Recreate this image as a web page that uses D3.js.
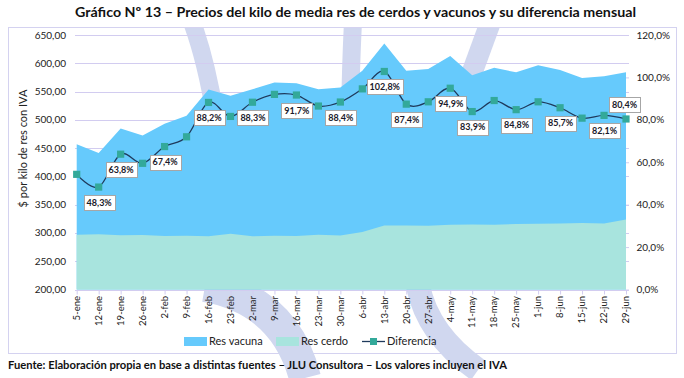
<!DOCTYPE html>
<html><head><meta charset="utf-8">
<script src="https://cdn.jsdelivr.net/npm/d3@7"></script>
<style>
html,body{margin:0;padding:0;background:#fff;}
svg{display:block;font-family:Lato,"Open Sans",sans-serif;}
</style></head>
<body>
<svg id="chart" width="684" height="378"></svg>
<script>
const categories = ["5-ene","12-ene","19-ene","26-ene","2-feb","9-feb","16-feb","23-feb","2-mar","9-mar","16-mar","23-mar","30-mar","6-abr","13-abr","20-abr","27-abr","4-may","11-may","18-may","25-may","1-jun","8-jun","15-jun","22-jun","29-jun"];
const resVacuna = [457,441.5,484.7,472.4,493,507,553.8,542.5,554,566,564.5,554,557,587,635,586.8,590,612.8,579,592,584,596.4,588,574,577,584];
const resCerdo = [297,297.7,296,296.2,294.5,295,294.3,298.6,294.2,295,294.5,297,295.6,301.6,313.1,313.1,312.8,314.4,314.8,314.5,316,316.4,316.6,317.5,316.9,323.7];
const diferencia = [54.3,48.3,63.8,59.5,67.4,72.0,88.2,81.6,88.3,92.0,91.7,86.5,88.4,94.6,102.8,87.4,88.5,94.9,83.9,89.1,84.8,88.5,85.7,80.8,82.1,80.4];
const labeledDates = ["12-ene","19-ene","2-feb","16-feb","2-mar","16-mar","30-mar","13-abr","20-abr","4-may","11-may","25-may","8-jun","22-jun","29-jun"];
const leftTicks = [200,250,300,350,400,450,500,550,600,650];
const rightTicks = [0,20,40,60,80,100,120];
const seriesNames = ["Res vacuna","Res cerdo","Diferencia"];
const titleText = "Gráfico Nº 13 – Precios del kilo de media res de cerdos y vacunos y su diferencia mensual";
const footerText = "Fuente: Elaboración propia en base a distintas fuentes – JLU Consultora – Los valores incluyen el IVA";
const yTitle = "$ por kilo de res con IVA";

const C = {vac:"#66CAFC", cer:"#A8E4DE", mk:"#33A99A", ln:"#1F3A5C", grid:"#D2CCF0", wm:"#D0D7EF", txt:"#222"};
const svg = d3.select("#chart");
const loc = d3.formatLocale({decimal:",",thousands:".",grouping:[3]});
const fL = loc.format(".2f"), fR = loc.format(".1f");

const x = d3.scalePoint().domain(categories).range([76.7, 626]);
const y = d3.scaleLinear().domain([200,650]).range([289.5, 35]);
const y2 = d3.scaleLinear().domain([0,120]).range([289.5, 35]);

// title
svg.append("text").attr("x",75).attr("y",17).attr("font-weight","bold").attr("font-size",13.5)
  .attr("fill","#111").attr("textLength",561).attr("lengthAdjust","spacingAndGlyphs").text(titleText);
// frame
svg.append("rect").attr("x",8.5).attr("y",27.5).attr("width",668).attr("height",326).attr("fill","#fff").attr("stroke","#D4D2F0");

// watermark (clipped below frame top)
svg.append("defs").append("clipPath").attr("id","wmclip").append("rect")
  .attr("x",9).attr("y",28).attr("width",684).attr("height",360);
const wm = svg.append("g").attr("clip-path","url(#wmclip)").attr("fill","none").attr("stroke",C.wm);
wm.append("path").attr("d","M192,22 Q206,60 215,115").attr("stroke-width",18);
wm.append("path").attr("d","M353,22 Q351,60 350,115").attr("stroke-width",18);
wm.append("path").attr("d","M492,18 L462,100").attr("stroke-width",21);
wm.append("path").attr("d","M205,286 Q285,300 305,378").attr("stroke-width",32);
wm.append("path").attr("d","M418,286 Q428,335 478,370").attr("stroke-width",24);

// gridlines
svg.append("g").selectAll("line").data(leftTicks.slice(1)).join("line")
  .attr("x1",75).attr("x2",629).attr("y1",d=>Math.round(y(d))+0.5).attr("y2",d=>Math.round(y(d))+0.5)
  .attr("stroke",C.grid).attr("stroke-width",1);

// areas
svg.append("path").datum(resVacuna).attr("fill",C.vac)
  .attr("d",d3.area().x((d,i)=>x(categories[i])).y0(y(200)).y1(d=>y(d)));
svg.append("path").datum(resCerdo).attr("fill",C.cer)
  .attr("d",d3.area().x((d,i)=>x(categories[i])).y0(y(200)).y1(d=>y(d)));

// x axis
const xa = svg.append("g").attr("transform",`translate(0,${Math.round(y(200))+0.5})`)
  .call(d3.axisBottom(x).tickSize(4).tickSizeOuter(0).tickFormat(""));
xa.select(".domain").attr("stroke",C.grid).attr("d","M75,0H629");
xa.selectAll(".tick line").attr("stroke",C.grid);
svg.append("g").selectAll("text").data(categories).join("text")
  .attr("transform",d=>`translate(${x(d)+3.3},296) rotate(-90)`)
  .attr("text-anchor","end").attr("font-size",9.5).attr("fill",C.txt).text(d=>d);

// left axis labels
svg.append("g").selectAll("text").data(leftTicks).join("text")
  .attr("x",66).attr("y",d=>y(d)).attr("dy","0.35em").attr("text-anchor","end")
  .attr("font-size",10).attr("fill",C.txt).text(d=>fL(d));
// right axis
const ra = svg.append("g").attr("transform","translate(626,0)")
  .call(d3.axisRight(y2).tickValues(rightTicks).tickSize(3).tickFormat(""));
ra.select(".domain").remove();
ra.selectAll(".tick line").attr("stroke",C.grid);
svg.append("g").selectAll("text").data(rightTicks).join("text")
  .attr("x",636.5).attr("y",d=>y2(d)).attr("dy","0.35em")
  .attr("font-size",10).attr("fill",C.txt).text(d=>fR(d)+"%");
// y title
svg.append("text").attr("transform","translate(27,148.5) rotate(-90)").attr("text-anchor","middle")
  .attr("font-size",11).attr("fill",C.txt).text(yTitle);

// line
svg.append("path").datum(diferencia).attr("fill","none").attr("stroke",C.ln).attr("stroke-width",1.3)
  .attr("d",d3.line().x((d,i)=>x(categories[i])).y(d=>y2(d)).curve(d3.curveCatmullRom.alpha(0)));
svg.append("g").selectAll("rect").data(diferencia).join("rect")
  .attr("x",(d,i)=>x(categories[i])-3.6).attr("y",d=>y2(d)-3.6).attr("width",7.2).attr("height",7.2).attr("fill",C.mk);

// data labels
const lab = svg.append("g");
categories.forEach((c,i)=>{
  if(!labeledDates.includes(c)) return;
  const last = i===categories.length-1;
  const cx = last ? x(c)-1.5 : x(c)+0.5;
  const cy = y2(diferencia[i]) + (last ? -14 : 15.5);
  const w = c==="13-abr" ? 36 : 31;
  lab.append("rect").attr("x",Math.round(cx-w/2)+0.5).attr("y",Math.round(cy-7.5)+0.5).attr("width",w).attr("height",15)
    .attr("fill","#fff").attr("stroke","#A6A6A6");
  lab.append("text").attr("x",cx).attr("y",cy).attr("dy","0.36em").attr("text-anchor","middle")
    .attr("font-size",9).attr("font-weight","bold").attr("fill","#1a1a2a").text(fR(diferencia[i])+"%");
});

// legend
const lg = svg.append("g").attr("font-size",11).attr("fill",C.txt);
lg.append("rect").attr("x",184).attr("y",337).attr("width",23).attr("height",9).attr("fill",C.vac);
lg.append("text").attr("x",209).attr("y",341.5).attr("dy","0.35em").text(seriesNames[0]);
lg.append("rect").attr("x",276).attr("y",337).attr("width",23).attr("height",9).attr("fill",C.cer);
lg.append("text").attr("x",301).attr("y",341.5).attr("dy","0.35em").text(seriesNames[1]);
lg.append("line").attr("x1",362).attr("x2",385).attr("y1",341.5).attr("y2",341.5).attr("stroke",C.ln).attr("stroke-width",1.3);
lg.append("rect").attr("x",370).attr("y",338).attr("width",7).attr("height",7).attr("fill",C.mk);
lg.append("text").attr("x",387).attr("y",341.5).attr("dy","0.35em").text(seriesNames[2]);

// footer
svg.append("text").attr("x",8).attr("y",369).attr("font-size",10.5).attr("font-weight","bold").attr("fill","#111")
  .attr("textLength",499).attr("lengthAdjust","spacingAndGlyphs").text(footerText);
</script>
</body></html>
